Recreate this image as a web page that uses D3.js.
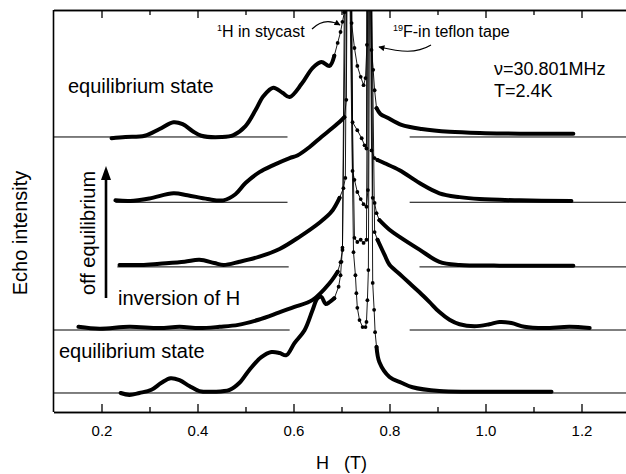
<!DOCTYPE html>
<html><head><meta charset="utf-8">
<script src="https://cdn.jsdelivr.net/npm/d3@7"></script>
<style>
body{margin:0;background:#fff}
svg{display:block}
text{font-family:"Liberation Sans",Arial,Helvetica,sans-serif;fill:#000}
</style>
</head><body>
<svg id="chart" width="626" height="474"></svg>
<script>
// ---------------- data ----------------
const xTicksMajor = [0.2, 0.4, 0.6, 0.8, 1.0, 1.2];
const xTicksMinor = [0.3, 0.5, 0.7, 0.9, 1.1];
const xLabel = "H   (T)";
const yLabel = "Echo intensity";

// vertical offset (baseline level) of each trace, top to bottom
const baselineLevels = [4.0, 2.98, 1.97, 0.984, 0];
// horizontal extent of each trace's baseline segments (in T)
const baselineSpans = [
  [[0.1, 0.5875], [0.842, 1.3]],
  [[0.229, 0.5875], [0.842, 1.3]],
  [[0.233, 0.59], [0.8625, 1.3]],
  [[0.1, 0.592], [0.842, 1.3]],
  [[0.1, 1.3]]
];
// field range where the spectrum is sparsely sampled (dots) around the 1H / 19F lines
const sparseRanges = [[0.685, 0.773], [0.706, 0.775], [0.696, 0.779], [0.692, 0.775], [0.685, 0.773]];

// trace A: equilibrium state (top)
const A_H = [0.221,0.25,0.29,0.321,0.35,0.369,0.39,0.408,0.45,0.475,0.50,0.521,0.5375,0.558,0.577,0.592,0.617,0.64,0.658,0.675,0.685,0.692,0.698,0.702,0.706,0.715,0.721,0.727,0.733,0.740,0.746,0.750,0.753,0.756,0.7625,0.766,0.769,0.773,0.781,0.796,0.825,0.867,0.925,1.0,1.1,1.183];
const A_I = [-0.02,0,0.02,0.125,0.23,0.2,0.09,0.02,0,0.03,0.17,0.42,0.64,0.77,0.69,0.625,0.83,1.08,1.17,1.11,1.27,1.47,1.64,1.80,1.95,9,1.78,1.39,1.11,0.94,0.81,0.92,1.44,9,1.36,1.05,0.73,0.45,0.36,0.30,0.19,0.125,0.08,0.06,0.05,0.05];
// trace B: off equilibrium
const B_H = [0.229,0.26,0.30,0.35,0.379,0.421,0.454,0.479,0.50,0.529,0.558,0.592,0.608,0.633,0.658,0.681,0.698,0.706,0.71,0.717,0.723,0.733,0.742,0.748,0.752,0.755,0.7625,0.769,0.775,0.79,0.821,0.8625,0.904,0.946,0.9875,1.071,1.179];
const B_I = [0.03,0.02,0.06,0.14,0.11,0.05,0.03,0.125,0.30,0.47,0.58,0.69,0.73,0.86,1.02,1.16,1.27,1.33,1.6,9,1.25,1.125,1.0,0.89,0.84,9,0.81,0.69,0.66,0.61,0.5,0.30,0.14,0.08,0.05,0.03,0.02];
// trace C: off equilibrium
const C_H = [0.2375,0.283,0.321,0.373,0.404,0.435,0.454,0.4875,0.529,0.571,0.6125,0.654,0.679,0.696,0.704,0.708,0.715,0.723,0.727,0.733,0.74,0.746,0.752,0.755,0.758,0.765,0.769,0.773,0.779,0.8,0.821,0.8625,0.904,0.946,1.029,1.1125,1.183];
const C_I = [0.03,0.03,0.05,0.08,0.11,0.06,0.03,0.08,0.16,0.28,0.47,0.69,0.86,1.08,1.23,1.39,9,1.5,1.36,1.17,1.06,0.98,0.94,1.2,9,1.08,1.0,0.84,0.73,0.58,0.47,0.27,0.08,0.03,0.02,0.02,0.02];
// trace D: inversion of H
const D_H = [0.152,0.196,0.258,0.321,0.3625,0.404,0.446,0.485,0.527,0.569,0.602,0.64,0.675,0.692,0.698,0.702,0.71,0.727,0.733,0.74,0.746,0.752,0.757,0.769,0.775,0.79,0.8,0.821,0.842,0.8625,0.883,0.904,0.925,0.946,0.977,1.008,1.029,1.054,1.081,1.123,1.175,1.217];
const D_I = [0.05,0.02,0.05,0.03,0.05,0.03,0.05,0.08,0.16,0.27,0.36,0.47,0.73,0.91,1.06,1.25,9,1.44,1.375,1.41,1.36,1.41,9,1.53,1.41,1.17,1.02,0.875,0.73,0.59,0.44,0.28,0.16,0.09,0.06,0.09,0.125,0.11,0.05,0.03,0.05,0.03];
// trace E: equilibrium state (bottom)
const E_H = [0.24,0.258,0.279,0.304,0.325,0.344,0.3625,0.383,0.404,0.435,0.467,0.4875,0.508,0.533,0.554,0.571,0.585,0.602,0.623,0.64,0.65,0.658,0.667,0.675,0.685,0.694,0.698,0.70,0.702,0.7125,0.725,0.729,0.731,0.733,0.7375,0.744,0.75,0.752,0.754,0.756,0.76,0.765,0.768,0.77,0.773,0.779,0.8,0.825,0.848,0.904,0.967,1.05,1.1375];
const E_I = [0,-0.03,0,0.05,0.16,0.23,0.2,0.11,0.03,0.02,0.05,0.16,0.36,0.56,0.64,0.625,0.59,0.78,0.98,1.3,1.48,1.5,1.39,1.42,1.48,1.66,1.84,2.05,2.27,9,2.2,1.84,1.56,1.33,1.14,1.03,1.03,1.11,1.45,1.92,9,1.72,1.3,0.95,0.72,0.48,0.25,0.16,0.09,0.03,0.02,0.02,0.02];

const traceH = [A_H, B_H, C_H, D_H, E_H];
const traceI = [A_I, B_I, C_I, D_I, E_I];

// ---------------- drawing ----------------
(function draw() {
const svg = d3.select("#chart");
const W = 626, Ht = 474;
const mLeft = 53.5, mTop = 10, mBottom = 412, mRight = 629.5;
const x = d3.scaleLinear().domain([0.1, 1.3]).range([mLeft, mRight]);
const y = d3.scaleLinear().domain([-0.297, 5.984]).range([mBottom, mTop]);

svg.append("rect").attr("width", W).attr("height", Ht).attr("fill", "#fff");

const defs = svg.append("defs");
defs.append("clipPath").attr("id", "clip").append("rect")
  .attr("x", mLeft).attr("y", mTop).attr("width", mRight - mLeft).attr("height", mBottom - mTop);
defs.append("marker").attr("id", "ah").attr("viewBox", "0 0 10 10")
  .attr("refX", 9).attr("refY", 5).attr("markerWidth", 7).attr("markerHeight", 6)
  .attr("markerUnits", "userSpaceOnUse").attr("orient", "auto")
  .append("path").attr("d", "M0,0 L10,5 L0,10 z").attr("fill", "#000");

const plot = svg.append("g").attr("clip-path", "url(#clip)");

// baselines
baselineLevels.forEach((lev, i) => {
  baselineSpans[i].forEach(s => {
    plot.append("line")
      .attr("x1", x(s[0])).attr("x2", x(s[1]))
      .attr("y1", y(lev)).attr("y2", y(lev))
      .attr("stroke", "#000").attr("stroke-width", 1);
  });
});

const thickLine = d3.line().x(d => d[0]).y(d => d[1]).curve(d3.curveCatmullRom.alpha(0.5));
const thinLine = d3.line().x(d => d[0]).y(d => d[1]);

traceH.forEach((hs, i) => {
  const lev = baselineLevels[i];
  const [lo, hi] = sparseRanges[i];
  const pts = hs.map((h, j) => ({h, p: [x(h), y(traceI[i][j] + lev)]}));
  const leftPts = pts.filter(d => d.h <= lo).map(d => d.p);
  const rightPts = pts.filter(d => d.h >= hi).map(d => d.p);
  const midPts = pts.filter(d => d.h >= lo && d.h <= hi).map(d => d.p);
  plot.append("path").attr("d", thinLine(midPts)).attr("fill", "none")
    .attr("stroke", "#000").attr("stroke-width", 0.9);
  plot.selectAll(null).data(midPts).enter().append("circle")
    .attr("cx", d => d[0]).attr("cy", d => d[1]).attr("r", 1.9).attr("fill", "#000");
  [leftPts, rightPts].forEach(seg => {
    plot.append("path").attr("d", thickLine(seg)).attr("fill", "none")
      .attr("stroke", "#000").attr("stroke-width", 4)
      .attr("stroke-linejoin", "round").attr("stroke-linecap", "round");
  });
});

// axes
const fmt = d3.format(".1f");
const gb = svg.append("g").attr("transform", `translate(0,${mBottom})`)
  .call(d3.axisBottom(x).tickValues(xTicksMajor).tickSize(-8).tickSizeOuter(0).tickPadding(13).tickFormat(fmt));
svg.append("g").attr("transform", `translate(0,${mBottom})`)
  .call(d3.axisBottom(x).tickValues(xTicksMinor).tickSize(-5).tickSizeOuter(0).tickFormat(""));
svg.append("g").attr("transform", `translate(0,${mTop})`)
  .call(d3.axisTop(x).tickValues(xTicksMajor).tickSize(-8).tickSizeOuter(0).tickFormat(""));
svg.append("g").attr("transform", `translate(0,${mTop})`)
  .call(d3.axisTop(x).tickValues(xTicksMinor).tickSize(-5).tickSizeOuter(0).tickFormat(""));
svg.selectAll(".domain").attr("stroke", "#000").attr("stroke-width", 1.6);
svg.selectAll(".tick line").attr("stroke", "#000").attr("stroke-width", 1.3);
gb.selectAll(".tick text").attr("fill", "#000").style("font-size", "15px")
  .style("font-family", '"Liberation Sans",Arial,sans-serif');
svg.append("line").attr("x1", mLeft).attr("x2", mLeft).attr("y1", mTop).attr("y2", mBottom)
  .attr("stroke", "#000").attr("stroke-width", 1.6);

// axis titles
svg.append("text").attr("x", x(0.7)).attr("y", 469).attr("text-anchor", "middle")
  .style("font-size", "18px").style("white-space", "pre").text(xLabel);
svg.append("text").attr("transform", "translate(27,233) rotate(-90)").attr("text-anchor", "middle")
  .style("font-size", "20px").text(yLabel);

// annotations
const lab = (t, xx, yy, fs) => svg.append("text").attr("x", xx).attr("y", yy).style("font-size", fs + "px").text(t);
lab("equilibrium state", 68, 93, 20);
lab("equilibrium state", 59, 358, 20);
lab("inversion of H", 118, 305, 20);
lab("T=2.4K", 494, 97, 18);
lab("\u03bd=30.801MHz", 494, 75, 18);

const t1 = svg.append("text").attr("x", 217).attr("y", 37).style("font-size", "16px");
t1.append("tspan").style("font-size", "9px").attr("dy", -6).text("1");
t1.append("tspan").attr("dy", 6).text("H in stycast");
const t2 = svg.append("text").attr("x", 393).attr("y", 37).style("font-size", "16px");
t2.append("tspan").style("font-size", "9px").attr("dy", -6).text("19");
t2.append("tspan").attr("dy", 6).text("F-in teflon tape");

svg.append("path").attr("d", "M312,29 C321,20 331,20 340,25").attr("fill", "none")
  .attr("stroke", "#000").attr("stroke-width", 1.2).attr("marker-end", "url(#ah)");
svg.append("path").attr("d", "M431,45 C416,54 401,52 379,47").attr("fill", "none")
  .attr("stroke", "#000").attr("stroke-width", 1.2).attr("marker-end", "url(#ah)");

// off-equilibrium arrow
svg.append("line").attr("x1", 106).attr("x2", 106).attr("y1", 298).attr("y2", 178)
  .attr("stroke", "#000").attr("stroke-width", 2.6);
svg.append("path").attr("d", "M106,166 L101,180 L111,180 z").attr("fill", "#000");
svg.append("text").attr("transform", "translate(95,233) rotate(-90)").attr("text-anchor", "middle")
  .style("font-size", "20px").text("off equilibrium");
})();
</script>
</body></html>
